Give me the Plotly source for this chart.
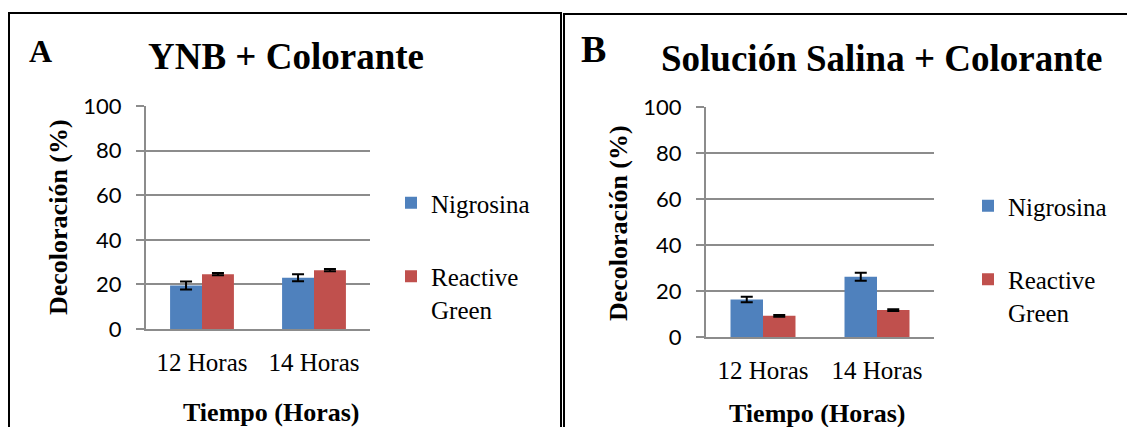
import plotly.graph_objects as go

W, H = 1127, 427

categories = ["12 Horas", "14 Horas"]
series_names = ["Nigrosina", "Reactive<br>Green"]
colors = ["#4F81BD", "#C0504D"]

# Panel A: YNB + Colorante
a_nigrosina = [19.5, 23.0]
a_nigrosina_err = [1.8, 1.6]
a_reactive = [24.6, 26.4]
a_reactive_err = [0.5, 0.5]

# Panel B: Solución Salina + Colorante
b_nigrosina = [16.3, 26.2]
b_nigrosina_err = [1.2, 1.7]
b_reactive = [9.2, 11.7]
b_reactive_err = [0.4, 0.4]

y_ticks = [0, 20, 40, 60, 80, 100]

title_a = "YNB + Colorante"
title_b = "Solución Salina + Colorante"
ytitle = "Decoloración (%)"
xtitle = "Tiempo (Horas)"

def px_x(p):
    return p / W

def px_y(p):
    return 1 - p / H

fig = go.Figure()

panels = [
    dict(vals=[a_nigrosina, a_reactive], errs=[a_nigrosina_err, a_reactive_err],
         xa="x", ya="y", legend="legend"),
    dict(vals=[b_nigrosina, b_reactive], errs=[b_nigrosina_err, b_reactive_err],
         xa="x2", ya="y2", legend="legend2"),
]

for p in panels:
    for i in range(2):
        fig.add_trace(go.Bar(
            x=categories, y=p["vals"][i], name=series_names[i],
            marker=dict(color=colors[i], line=dict(width=0)),
            error_y=dict(type="data", array=p["errs"][i], visible=True,
                         color="black", thickness=2, width=6),
            xaxis=p["xa"], yaxis=p["ya"], legend=p["legend"],
            legendgroup=f"g{i}",
        ))

serif = "Liberation Serif, Times New Roman, serif"
sans = "Lato, Carlito, Calibri, sans-serif"

axis_common_y = dict(
    range=[0, 100], tickvals=y_ticks, showgrid=True, gridcolor="#8C8C8C", gridwidth=2,
    showline=True, linecolor="#8C8C8C", linewidth=2, ticks="outside", ticklen=8,
    tickcolor="#8C8C8C", tickwidth=2, tickfont=dict(family=sans, size=22, color="black"),
    ticklabelstandoff=10, zeroline=False, fixedrange=True, automargin=False,
)
axis_common_x = dict(
    showline=True, linecolor="#8C8C8C", linewidth=2, ticks="",
    tickfont=dict(family=serif, size=25, color="black"), ticklabelstandoff=10,
    fixedrange=True, automargin=False,
)

legend_common = dict(
    font=dict(family=serif, size=25, color="black"), bgcolor="rgba(0,0,0,0)",
    traceorder="grouped", tracegroupgap=38, valign="top", itemwidth=30,
    xanchor="left", yanchor="top", itemclick=False, itemdoubleclick=False,
)

fig.update_layout(
    width=W, height=H, margin=dict(l=0, r=0, t=0, b=0, autoexpand=False),
    paper_bgcolor="white", plot_bgcolor="white",
    barmode="group", bargap=0.43, bargroupgap=0,
    xaxis=dict(domain=[px_x(146), px_x(370)], anchor="y", **axis_common_x),
    yaxis=dict(domain=[px_y(329), px_y(106)], anchor="x", **axis_common_y),
    xaxis2=dict(domain=[px_x(706), px_x(934)], anchor="y2", **axis_common_x),
    yaxis2=dict(domain=[px_y(337), px_y(107)], anchor="x2", **axis_common_y),
    legend=dict(x=px_x(391), y=px_y(180), **legend_common),
    legend2=dict(x=px_x(968), y=px_y(183), **legend_common),
    showlegend=True,
)

# Panel borders
fig.add_shape(type="rect", xref="paper", yref="paper",
              x0=px_x(9), x1=px_x(561), y0=px_y(440), y1=px_y(13),
              line=dict(color="black", width=2), fillcolor="rgba(0,0,0,0)")
fig.add_shape(type="rect", xref="paper", yref="paper",
              x0=px_x(564), x1=px_x(1140), y0=px_y(440), y1=px_y(14),
              line=dict(color="black", width=2), fillcolor="rgba(0,0,0,0)")

annotations = [
    dict(text="<b>A</b>", x=px_x(27), y=px_y(71), xanchor="left", yanchor="bottom",
         font=dict(family=serif, size=32, color="black")),
    dict(text="<b>B</b>", x=px_x(579), y=px_y(72), xanchor="left", yanchor="bottom",
         font=dict(family=serif, size=38, color="black")),
    dict(text=f"<b>{title_a}</b>", x=px_x(286), y=px_y(56), xanchor="center", yanchor="middle",
         font=dict(family=serif, size=37, color="black")),
    dict(text=f"<b>{title_b}</b>", x=px_x(882), y=px_y(58), xanchor="center", yanchor="middle",
         font=dict(family=serif, size=37, color="black")),
    dict(text=f"<b>{ytitle}</b>", x=px_x(58), y=px_y(217), xanchor="center", yanchor="middle",
         textangle=-90, font=dict(family=serif, size=26, color="black")),
    dict(text=f"<b>{ytitle}</b>", x=px_x(618), y=px_y(223), xanchor="center", yanchor="middle",
         textangle=-90, font=dict(family=serif, size=26, color="black")),
    dict(text=f"<b>{xtitle}</b>", x=px_x(271), y=px_y(412), xanchor="center", yanchor="middle",
         font=dict(family=serif, size=26, color="black")),
    dict(text=f"<b>{xtitle}</b>", x=px_x(817), y=px_y(413), xanchor="center", yanchor="middle",
         font=dict(family=serif, size=26, color="black")),
]
for a in annotations:
    fig.add_annotation(xref="paper", yref="paper", showarrow=False, **a)

fig.write_html(
    "out.html",
    config={"displayModeBar": False},
    post_script="document.body.style.margin='0';document.body.style.overflow='hidden';",
)
